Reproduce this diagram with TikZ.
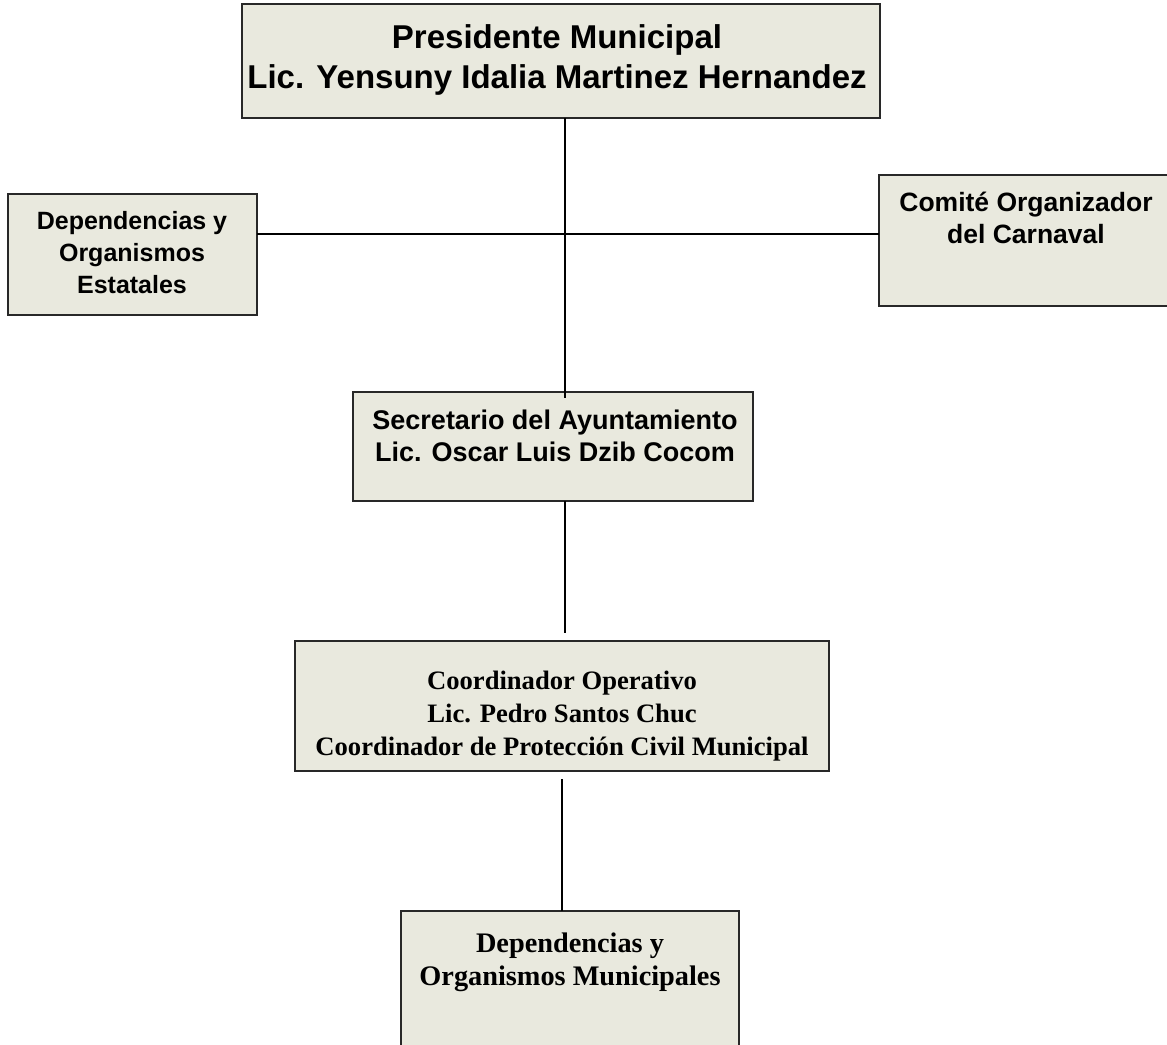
\documentclass[tikz,border=0pt]{standalone}
\usepackage{fontspec}
\setmainfont{Liberation Serif}
\newfontfamily\arialf{Liberation Sans}
\definecolor{boxfill}{RGB}{233,233,222}
\definecolor{boxline}{RGB}{40,40,40}
\begin{document}
\begin{tikzpicture}[x=1pt,y=-1pt,
  orgbox/.style={draw=boxline,fill=boxfill,line width=1.4pt,rectangle,inner sep=0pt,outer sep=0pt,anchor=north west},
  conn/.style={draw=black,line width=1.5pt},
  sanslbl/.style={align=center,inner sep=0pt,font=\arialf\bfseries\fontsize{25}{32}\selectfont},
  seriflbl/.style={align=center,inner sep=0pt,font=\bfseries\fontsize{26.6}{33}\selectfont}]
\useasboundingbox (0,0) rectangle (1167,1044);
\clip (0,0) rectangle (1167,1044);
\node[orgbox,minimum width=638pt,minimum height=114pt] (pres) at (242,4) {};
\node[orgbox,minimum width=249pt,minimum height=121pt] (dep) at (8,194) {};
\node[orgbox,minimum width=300pt,minimum height=131pt] (com) at (879,175) {};
\node[orgbox,minimum width=400pt,minimum height=109pt] (sec) at (353,392) {};
\node[orgbox,minimum width=534pt,minimum height=130pt] (coord) at (295,641) {};
\node[orgbox,minimum width=338pt,minimum height=150pt] (mun) at (401,911) {};

\node[align=center,inner sep=0pt,font=\arialf\bfseries\fontsize{33}{40}\selectfont] (presT) at (557,60) {Presidente Municipal\\Lic. Yensuny Idalia Martinez Hernandez};
\node[sanslbl] (depT) at (132,253) {Dependencias y\\Organismos\\Estatales};
\node[sanslbl,font=\arialf\bfseries\fontsize{26.5}{32}\selectfont] (comT) at (1026,218) {Comité Organizador\\del Carnaval};
\node[sanslbl,font=\arialf\bfseries\fontsize{27}{32}\selectfont] (secT) at (555,436) {Secretario del Ayuntamiento\\Lic. Oscar Luis Dzib Cocom};
\node[seriflbl] (coordT) at (562,716) {Coordinador Operativo\\Lic. Pedro Santos Chuc\\Coordinador de Protección Civil Municipal};
\node[seriflbl,font=\bfseries\fontsize{28.3}{33}\selectfont] (munT) at (570,962) {Dependencias y\\Organismos Municipales};

\coordinate (j) at (565,234);
\coordinate (e2) at (565,633);
\coordinate (s3) at (562,779);
\draw[conn] (pres.south -| j) -- (j) -- ([yshift=-6pt]sec.north -| j);
\draw[conn] (dep.east |- j) -- (com.west |- j);
\draw[conn] (sec.south -| e2) -- (e2);
\draw[conn] (s3) -- (mun.north -| s3);
\end{tikzpicture}
\end{document}
